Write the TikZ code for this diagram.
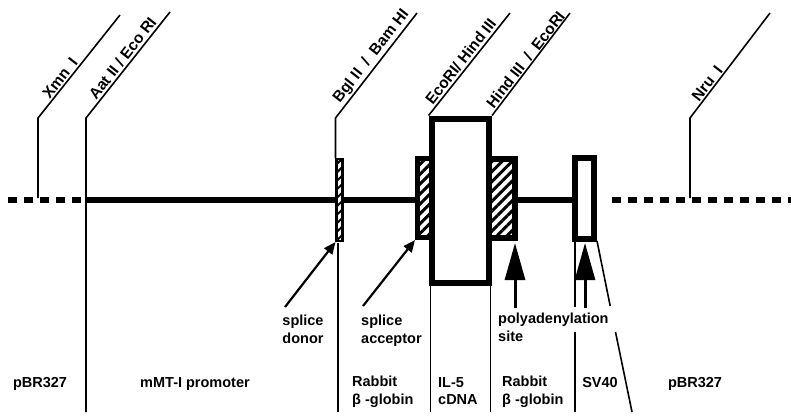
\documentclass[tikz,border=0pt]{standalone}
\usepackage{fontspec}
\setmainfont{Liberation Sans}
\usetikzlibrary{arrows.meta,patterns.meta}
\tikzset{
  site/.style={draw=black, line width=1.6pt},
  dna/.style={draw=black, line width=6.5pt},
  vec/.style={dna, dash pattern=on 9pt off 7pt},
  exon/.style={draw=black, line width=6pt, fill=white, inner sep=0pt},
  hatch/.style={exon, preaction={fill=white},
    pattern={Lines[angle=45,distance=7pt,line width=3pt]}},
  cutlbl/.style={rotate=52, anchor=south west, inner sep=1.5pt,
    font=\fontsize{15.5}{18}\selectfont\bfseries},
  lbl/.style={inner sep=0pt, align=center,
    font=\fontsize{14.5}{17.5}\selectfont\bfseries},
  arr/.style={-{Triangle[length=12pt,width=10pt]}, line width=2.2pt},
  bigarr/.style={-{Triangle[length=37pt,width=20pt]}, line width=3pt}
}

\begin{document}
\begin{tikzpicture}[x=1pt,y=1pt]
  \useasboundingbox (0,0) rectangle (791,-416);
  \coordinate (floor) at (0,-412);

  % backbone
  \draw[vec] (8,-200) -- (86,-200);
  \draw[dna] (86,-200) -- (576,-200);
  \draw[vec] (612,-200) -- (791,-200);

  % restriction sites
  \coordinate (xmn) at (38,-118);
  \coordinate (aat) at (86,-118);
  \coordinate (bgl) at (335.5,-118);
  \coordinate (nru) at (690,-118);
  \draw[site] (38,-198) -- (xmn) -- (120,-15) node[cutlbl, pos=.15] {Xmn\ \ I};
  \draw[site] (aat |- floor) -- (aat) -- (170,-12) node[cutlbl, pos=.13] {Aat II / Eco RI};
  \draw[site] (335.5,-158) -- (bgl) -- (417,-13) node[cutlbl, pos=.09] {Bgl II \ / \ Bam HI};
  \draw[site] (690,-198) -- (nru) -- (770,-13) node[cutlbl, pos=.12] {Nru\ \ I};

  % elements
  \node[hatch, line width=2.5pt, minimum width=6pt, minimum height=82pt,
    pattern={Lines[angle=45,distance=6pt,line width=2pt]}] (dbox) at (339.5,-200) {};
  \node[hatch, line width=5pt, minimum width=14pt, minimum height=79pt] (abox) at (424.5,-198) {};
  \node[hatch, minimum width=26.3pt, minimum height=79.3pt] (pbox) at (502.2,-198.4) {};
  \node[exon, minimum width=57.5pt, minimum height=164pt] (cbox) at (460.3,-200.5) {};
  \node[exon, minimum width=19.6pt, minimum height=80.7pt] (sbox) at (584.5,-198.4) {};

  \draw[site] (cbox.north west) -- (510,-13) node[cutlbl, pos=.06] {EcoRI/ Hind III};
  \draw[site] (cbox.north east) -- (570,-13) node[cutlbl, pos=.03] {Hind III \ / \ EcoRI};

  % region borders
  \draw[site] (338,-243) -- (338,-412);
  \draw[site] (430.5,-285) -- (430.5,-412);
  \draw[site] (490.5,-285) -- (490.5,-412);
  \draw[site] (575,-241) -- (575,-307);
  \draw[site] (575,-332) -- (575,-412);
  \draw[site] (597,-241) -- (610.2,-306);
  \draw[site] (615.5,-332) -- (632,-412);

  % features
  \coordinate (dtail) at (285,-307);
  \coordinate (atail) at (363,-306);
  \coordinate (ptip) at (515,-243);
  \coordinate (stip) at (585,-243);
  \draw[arr] (dtail) -- (dbox.south west);
  \draw[arr] (atail) -- (abox.south west);
  \draw[bigarr] (ptip |- 0,-308) -- (ptip);
  \draw[bigarr] (stip |- 0,-308) -- (stip);

  \node[lbl, anchor=north] (donor) at (303,-315) {splice\\donor};
  \node[lbl, anchor=north west, align=left] (acc) at (361,-315) {splice\\acceptor};
  \node[lbl, anchor=north west, align=left] (polya) at (498,-313) {polyadenylation\\site};

  % regions
  \node[lbl, anchor=north] (pbrl) at (40,-377) {pBR327};
  \node[lbl, anchor=north] (mmt) at (195,-377) {mMT-I promoter};
  \node[lbl, anchor=north west, align=left] (rbg1) at (352,-376) {Rabbit\\β -globin};
  \node[lbl, anchor=north west, align=left] (il5) at (438,-377) {IL-5\\cDNA};
  \node[lbl, anchor=north west, align=left] (rbg2) at (502,-376) {Rabbit\\β -globin};
  \node[lbl, anchor=north] (sv) at (600,-377) {SV40};
  \node[lbl, anchor=north] (pbrr) at (695,-377) {pBR327};
\end{tikzpicture}
\end{document}
